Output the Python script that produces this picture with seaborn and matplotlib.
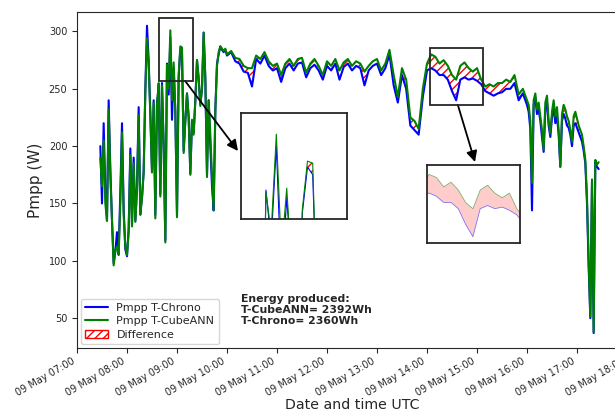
import numpy as np
import pandas as pd
import matplotlib
matplotlib.use("Agg")
import matplotlib.pyplot as plt
import matplotlib.dates as mdates
from matplotlib.lines import Line2D
from matplotlib.patches import Patch, Rectangle
import seaborn as sns

# timestamps: 2-min steps in the morning, 5-min midday, 2-min late afternoon
t_morning = pd.date_range("2024-05-09 07:28", periods=77, freq="2min")
t_midday = pd.date_range("2024-05-09 10:05", periods=72, freq="5min")
t_late = pd.date_range("2024-05-09 16:02", periods=43, freq="2min")

cube_morning = [190, 165, 205, 150, 135, 232, 175, 135, 96, 110,
                112, 105, 150, 212, 140, 112, 105, 125, 192, 130,
                185, 134, 160, 227, 140, 155, 177, 247, 294, 271,
                227, 177, 238, 137, 236, 255, 156, 253, 200, 116,
                271, 250, 301, 240, 273, 230, 138, 262, 287, 286,
                194, 223, 246, 225, 175, 223, 210, 240, 275, 260,
                235, 250, 299, 260, 173, 240, 210, 174, 144, 230,
                270, 282, 287, 285, 283, 285, 280]
chrono_morning = [200, 150, 220, 160, 135, 240, 180, 135, 98, 108,
                  125, 108, 160, 220, 145, 110, 104, 128, 198, 132,
                  190, 135, 165, 234, 142, 155, 178, 250, 305, 275,
                  229, 178, 240, 140, 238, 250, 158, 255, 200, 118,
                  272, 245, 295, 223, 268, 230, 140, 260, 284, 280,
                  196, 222, 246, 225, 176, 222, 212, 240, 275, 258,
                  237, 250, 299, 258, 175, 240, 200, 165, 144, 232,
                  272, 280, 287, 284, 282, 284, 279]

cube_midday = [283, 277, 276, 270, 268, 268, 279, 276, 282, 274,
               270, 272, 262, 272, 276, 270, 276, 277, 264, 272,
               276, 270, 262, 274, 270, 276, 266, 273, 276, 270,
               274, 272, 265, 270, 274, 276, 266, 272, 284, 262,
               243, 268, 258, 225, 222, 215, 250, 272, 280, 278,
               272, 275, 270, 262, 258, 270, 273, 268, 265, 268,
               258, 252, 254, 252, 255, 255, 258, 256, 262, 245,
               250, 240]
chrono_midday = [282, 274, 272, 265, 264, 252, 276, 272, 279, 270,
                 266, 268, 256, 268, 272, 266, 272, 273, 260, 268,
                 271, 266, 258, 270, 266, 272, 258, 269, 272, 266,
                 270, 268, 253, 266, 270, 272, 262, 268, 280, 253,
                 238, 262, 250, 218, 214, 210, 243, 266, 268, 266,
                 262, 262, 258, 248, 240, 258, 260, 258, 259, 257,
                 254, 248, 246, 244, 246, 247, 250, 250, 255, 240,
                 246, 236]

cube_late = [236, 222, 168, 240, 246, 232, 238, 226, 214, 197,
             238, 244, 222, 211, 230, 240, 226, 234, 214, 182,
             228, 236, 232, 226, 222, 214, 204, 226, 230, 224,
             218, 214, 210, 200, 188, 156, 100, 51, 171, 38,
             188, 184, 186]
chrono_late = [230, 215, 144, 236, 242, 228, 232, 222, 208, 195,
               232, 238, 218, 208, 225, 234, 220, 226, 210, 182,
               222, 228, 224, 218, 216, 210, 200, 218, 220, 216,
               212, 208, 204, 196, 185, 150, 95, 50, 168, 37,
               186, 182, 180]

energy_cube = 2392
energy_chrono = 2360

df = pd.DataFrame({
    "time": t_morning.append(t_midday).append(t_late),
    "chrono": chrono_morning + chrono_midday + chrono_late,
    "cube": cube_morning + cube_midday + cube_late,
})

sns.set_style("ticks")
plt.rcParams["font.family"] = ["DejaVu Sans"]

fig = plt.figure(figsize=(6.15, 4.16), dpi=100)
ax = fig.add_axes([0.1252, 0.1635, 0.8943, 0.8077])

sns.lineplot(data=df, x="time", y="chrono", color="blue", linewidth=1.5, estimator=None, ax=ax)
sns.lineplot(data=df, x="time", y="cube", color="green", linewidth=1.5, estimator=None, ax=ax)
ax.fill_between(df["time"], df["chrono"], df["cube"], where=df["cube"] > df["chrono"],
                interpolate=True, facecolor="none", edgecolor="red", hatch="////", linewidth=0)

ax.set_xlim(pd.Timestamp("2024-05-09 07:00"), pd.Timestamp("2024-05-09 18:00"))
ax.set_ylim(24, 317)
ax.xaxis.set_major_locator(mdates.HourLocator())
ax.xaxis.set_major_formatter(mdates.DateFormatter("%d %b %H:%M"))
ax.tick_params(labelsize=7, length=3.5)
ax.tick_params(axis="x", pad=2)
plt.setp(ax.get_xticklabels(), rotation=30, ha="right")
ax.set_xlabel("Date and time UTC", fontsize=10.2, labelpad=0)
ax.set_ylabel("Pmpp (W)", fontsize=11)

handles = [Line2D([], [], color="blue", lw=1.5, label="Pmpp T-Chrono"),
           Line2D([], [], color="green", lw=1.5, label="Pmpp T-CubeANN"),
           Patch(facecolor="none", edgecolor="red", hatch="////", label="Difference")]
ax.legend(handles=handles, loc="lower left", fontsize=8, borderaxespad=0.35,
          labelspacing=0.3)

fig.text(241 / 615, 1 - 294 / 416,
         f"Energy produced:\nT-CubeANN= {energy_cube}Wh\nT-Chrono= {energy_chrono}Wh",
         fontsize=7.8, fontweight="bold", va="top", ha="left", linespacing=1.1)

# zoom boxes and insets
zooms = [
    (pd.Timestamp("2024-05-09 08:38:24"), pd.Timestamp("2024-05-09 09:19:12"), 257, 312,
     [241 / 615, 1 - 219 / 416, 106 / 615, 106 / 416], pd.Timestamp("2024-05-09 09:09:36"),
     (238 / 615, 1 - 151 / 416), "hatch"),
    (pd.Timestamp("2024-05-09 14:03:36"), pd.Timestamp("2024-05-09 15:07:12"), 236, 286,
     [427 / 615, 1 - 243 / 416, 93 / 615, 78 / 416], pd.Timestamp("2024-05-09 14:37:00"),
     (475 / 615, 1 - 162 / 416), "fill"),
]
for x0, x1, y0, y1, pos, tail_x, head, kind in zooms:
    n0, n1 = mdates.date2num(x0), mdates.date2num(x1)
    ax.add_patch(Rectangle((n0, y0), n1 - n0, y1 - y0, fill=False, edgecolor="0.15", lw=1.3, zorder=5))
    ax.annotate("", xy=head, xycoords="figure fraction", xytext=(mdates.date2num(tail_x), y0),
                textcoords="data",
                arrowprops=dict(arrowstyle="-|>", color="black", lw=1.3, mutation_scale=16,
                                shrinkA=0, shrinkB=0))
    ins = fig.add_axes(pos)
    if kind == "hatch":
        ins.plot(df["time"], df["chrono"], color="blue", lw=0.8)
        ins.plot(df["time"], df["cube"], color="green", lw=0.8)
        ins.fill_between(df["time"], df["chrono"], df["cube"], where=df["cube"] > df["chrono"],
                         interpolate=True, facecolor="none", edgecolor="red", hatch="////",
                         linewidth=0)
    else:
        ins.plot(df["time"], df["chrono"], color="blue", lw=0.6, alpha=0.5)
        ins.plot(df["time"], df["cube"], color="green", lw=0.6, alpha=0.5)
        ins.fill_between(df["time"], df["chrono"], df["cube"], where=df["cube"] > df["chrono"],
                         interpolate=True, color="red", alpha=0.2, linewidth=0)
    ins.set_xlim(x0, x1)
    ins.set_ylim(y0, y1)
    ins.set_xticks([])
    ins.set_yticks([])
    for s in ins.spines.values():
        s.set_edgecolor("0.15")
        s.set_linewidth(1.3)

fig.savefig("out.png", dpi=100)
